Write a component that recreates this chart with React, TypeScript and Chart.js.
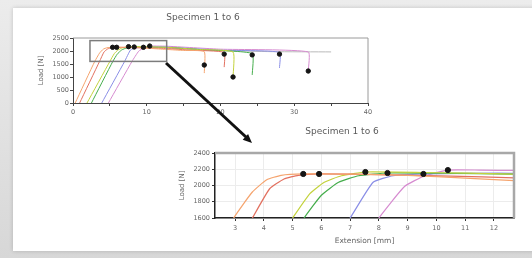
import { useEffect, useRef } from "react";
import { Chart, registerables } from "chart.js";

Chart.register(...registerables);

// ---------- data ----------
const chartTitle = "Specimen 1 to 6";
const loadTitle = "Load [N]";
const extensionTitle = "Extension [mm]";

const specimenNames = ["Specimen 1", "Specimen 2", "Specimen 3", "Specimen 4", "Specimen 5", "Specimen 6"];
const specimenColors = ["#f5a46e", "#e2705f", "#c3d23c", "#45ad4c", "#8a8ee6", "#d68bd0"];

// [extension mm, load N]
const specimen1: number[][] = [[0.3, 0], [2.95, 1600], [3.6, 1920], [4.1, 2070], [4.6, 2125], [5.37, 2142], [7, 2140], [9, 2125], [11, 2090], [12.7, 2060], [15, 2020], [17.8, 1975], [17.8, 1150]];
const specimen2: number[][] = [[0.9, 0], [3.6, 1600], [4.2, 1960], [4.7, 2080], [5.2, 2125], [5.92, 2142], [8, 2135], [10.5, 2115], [12.7, 2095], [16, 2030], [20.5, 1945], [20.5, 1380]];
const specimen3: number[][] = [[1.9, 0], [5.0, 1600], [5.6, 1900], [6.1, 2040], [6.7, 2120], [7.53, 2166], [9.5, 2160], [12.7, 2140], [17, 2060], [21.7, 1960], [21.7, 1000]];
const specimen4: number[][] = [[2.5, 0], [5.4, 1600], [6.0, 1880], [6.6, 2040], [7.3, 2120], [8.3, 2154], [10.5, 2150], [12.7, 2140], [18, 2040], [24.3, 1900], [24.3, 1080]];
const specimen5: number[][] = [[3.9, 0], [7.0, 1600], [7.8, 2040], [8.5, 2120], [9.55, 2142], [11, 2150], [12.7, 2150], [20, 2030], [28, 1950], [28, 1350]];
const specimen6: number[][] = [[4.8, 0], [8.0, 1600], [8.9, 1990], [9.6, 2120], [10.4, 2190], [11.5, 2190], [12.7, 2185], [20, 2070], [31.9, 1965], [31.9, 1230]];
const meanLine: number[][] = [[12.7, 2120], [20, 2020], [27, 1975], [35, 1965]];

const peakMarkers: number[][] = [[5.37, 2142], [5.92, 2142], [7.53, 2166], [8.3, 2154], [9.55, 2142], [10.4, 2190]];
const breakMarkers: number[][] = [[17.8, 1460], [20.5, 1880], [21.7, 1000], [24.3, 1850], [28, 1880], [31.9, 1230]];

const overviewXRange = [0, 40];
const overviewYRange = [0, 2500];
const overviewXTickLabels = [0, 10, 20, 30, 40];
const overviewYTickLabels = [0, 500, 1000, 1500, 2000, 2500];

const detailXRange = [2.3, 12.7];
const detailYRange = [1600, 2400];
const detailXTickLabels = [3, 4, 5, 6, 7, 8, 9, 10, 11, 12];
const detailYTickLabels = [1600, 1800, 2000, 2200, 2400];

const specimens = [specimen1, specimen2, specimen3, specimen4, specimen5, specimen6];

// ---------- helpers ----------
const FONT = '"DejaVu Sans", Verdana, sans-serif';
const toXY = (pts: number[][]) => pts.map(([x, y]) => ({ x, y }));

function buildDatasets(lineWidth: number, radius: number, withBreaks: boolean) {
  const ds: any[] = specimens.map((pts, i) => ({
    label: specimenNames[i],
    data: toXY(pts),
    showLine: true,
    borderColor: specimenColors[i],
    backgroundColor: specimenColors[i],
    borderWidth: lineWidth,
    pointRadius: 0,
    tension: 0.15,
    clip: 0,
    order: 3,
  }));
  ds.push({
    label: "Mean",
    data: toXY(meanLine),
    showLine: true,
    borderColor: "#b9b9b9",
    borderWidth: lineWidth,
    pointRadius: 0,
    tension: 0.2,
    clip: 0,
    order: 4,
  });
  ds.push({
    label: "Max load",
    data: toXY(peakMarkers),
    showLine: false,
    pointRadius: radius,
    pointBackgroundColor: "#151515",
    pointBorderColor: "#151515",
    clip: 4,
    order: 1,
  });
  if (withBreaks) {
    ds.push({
      label: "Break",
      data: toXY(breakMarkers),
      showLine: false,
      pointRadius: radius,
      pointBackgroundColor: "#151515",
      pointBorderColor: "#151515",
      clip: 4,
      order: 1,
    });
  }
  return ds;
}

function framePlugin(o: any) {
  return {
    id: "frame" + o.id,
    afterDatasetsDraw(chart: any) {
      const { ctx, scales } = chart;
      ctx.save();
      if (o.zoomRect) {
        const x0 = scales.x.getPixelForValue(detailXRange[0]);
        const x1 = scales.x.getPixelForValue(detailXRange[1]);
        const y0 = scales.y.getPixelForValue(detailYRange[1]);
        const y1 = scales.y.getPixelForValue(detailYRange[0]);
        ctx.strokeStyle = "#7c7c7c";
        ctx.lineWidth = 1.5;
        ctx.strokeRect(x0, y0, x1 - x0, y1 - y0);
      }
      ctx.restore();
    },
    afterDraw(chart: any) {
      const { ctx, chartArea: a } = chart;
      ctx.save();
      ctx.strokeStyle = o.borderColor;
      ctx.lineWidth = o.borderWidth;
      ctx.beginPath();
      ctx.moveTo(a.left, a.top);
      ctx.lineTo(a.right, a.top);
      ctx.lineTo(a.right, a.bottom);
      ctx.stroke();
      ctx.fillStyle = "#5a5a5a";
      ctx.font = "9px " + FONT;
      ctx.textAlign = "center";
      ctx.textBaseline = "middle";
      ctx.fillText(chartTitle, a.left + o.titleDX, o.titleY);
      ctx.restore();
    },
  };
}

const plainLabel = (list: number[]) => (v: any) => (list.includes(Number(v)) ? String(Number(v)) : "");

function overviewConfig(): any {
  const tickFont = { family: FONT, size: 6.5 };
  return {
    type: "scatter",
    data: { datasets: buildDatasets(1, 2.2, true) },
    options: {
      responsive: false,
      animation: false,
      events: [],
      layout: { padding: { top: 30, right: 22, bottom: 5, left: 0 } },
      plugins: { legend: { display: false }, tooltip: { enabled: false }, title: { display: false } },
      scales: {
        x: {
          type: "linear",
          min: overviewXRange[0],
          max: overviewXRange[1],
          afterFit: (s: any) => { s.height = 20; },
          border: { color: "#444", width: 1 },
          grid: { drawOnChartArea: false, drawTicks: true, tickLength: 3, color: "#444", tickColor: "#444" },
          ticks: {
            stepSize: 5,
            autoSkip: false,
            maxRotation: 0,
            padding: 2,
            color: "#666",
            font: tickFont,
            callback: plainLabel(overviewXTickLabels),
          },
        },
        y: {
          type: "linear",
          min: overviewYRange[0],
          max: overviewYRange[1],
          afterFit: (s: any) => { s.width = 53; },
          border: { color: "#444", width: 1 },
          grid: { drawOnChartArea: false, drawTicks: true, tickLength: 3, color: "#444", tickColor: "#444" },
          ticks: {
            stepSize: 500,
            padding: 1,
            color: "#666",
            font: tickFont,
            callback: plainLabel(overviewYTickLabels),
          },
          title: { display: true, text: loadTitle, color: "#666", font: { family: FONT, size: 7 }, padding: { top: 17, bottom: 0 } },
        },
      },
    },
    plugins: [framePlugin({ id: "a", zoomRect: true, borderColor: "#9a9a9a", borderWidth: 1, titleDX: 130, titleY: 10 })],
  };
}

function detailConfig(): any {
  const tickFont = { family: FONT, size: 6.5 };
  return {
    type: "scatter",
    data: { datasets: buildDatasets(1.2, 2.6, false) },
    options: {
      responsive: false,
      animation: false,
      events: [],
      layout: { padding: { top: 33, right: 18, bottom: 10, left: 0 } },
      plugins: { legend: { display: false }, tooltip: { enabled: false }, title: { display: false } },
      scales: {
        x: {
          type: "linear",
          min: detailXRange[0],
          max: detailXRange[1],
          afterBuildTicks: (s: any) => {
            s.ticks = detailXTickLabels.map((v) => ({ value: v }));
          },
          afterFit: (s: any) => { s.height = 30; },
          border: { color: "#222", width: 1.5 },
          grid: { drawOnChartArea: true, drawTicks: true, tickLength: 3, color: "#ececec", tickColor: "#333" },
          ticks: { autoSkip: false, maxRotation: 0, padding: 3.5, color: "#666", font: tickFont, callback: plainLabel(detailXTickLabels) },
          title: { display: true, text: extensionTitle, color: "#666", font: { family: FONT, size: 7.5 }, padding: { top: 0, bottom: 2.5 } },
        },
        y: {
          type: "linear",
          min: detailYRange[0],
          max: detailYRange[1],
          afterBuildTicks: (s: any) => {
            s.ticks = detailYTickLabels.map((v) => ({ value: v }));
          },
          afterFit: (s: any) => { s.width = 55; },
          border: { color: "#222", width: 1.5 },
          grid: { drawOnChartArea: true, drawTicks: true, tickLength: 3, color: "#ececec", tickColor: "#333" },
          ticks: { padding: 2, color: "#666", font: tickFont, callback: plainLabel(detailYTickLabels) },
          title: { display: true, text: loadTitle, color: "#666", font: { family: FONT, size: 7 }, padding: { top: 18, bottom: 0 } },
        },
      },
    },
    plugins: [framePlugin({ id: "b", zoomRect: false, borderColor: "#a8a8a8", borderWidth: 2.5, titleDX: 127, titleY: 12 })],
  };
}

export default function App() {
  const topRef = useRef<HTMLCanvasElement>(null);
  const botRef = useRef<HTMLCanvasElement>(null);

  useEffect(() => {
    const c1 = new Chart(topRef.current as HTMLCanvasElement, overviewConfig());
    const c2 = new Chart(botRef.current as HTMLCanvasElement, detailConfig());
    return () => {
      c1.destroy();
      c2.destroy();
    };
  }, []);

  return (
    <div
      style={{
        position: "fixed",
        left: 0,
        top: 0,
        width: 532,
        height: 258,
        overflow: "hidden",
        background: "linear-gradient(#ececec, #d7d7d7)",
      }}
    >
      <div
        style={{
          position: "absolute",
          left: 13,
          top: 8,
          width: 560,
          height: 243,
          background: "#ffffff",
          boxShadow: "0 0 4px rgba(0,0,0,0.18)",
        }}
      />
      <canvas
        ref={topRef}
        width={370}
        height={120}
        style={{ position: "absolute", left: 20, top: 8, width: 370, height: 120 }}
      />
      <canvas
        ref={botRef}
        width={372}
        height={138}
        style={{ position: "absolute", left: 160, top: 120, width: 372, height: 138 }}
      />
      <svg
        width={532}
        height={258}
        style={{ position: "absolute", left: 0, top: 0, pointerEvents: "none" }}
      >
        <line x1={166} y1={63} x2={246} y2={137} stroke="#111" strokeWidth={3} />
        <polygon points="252,143 242.7,139.8 248.1,134.0" fill="#111" />
      </svg>
    </div>
  );
}
